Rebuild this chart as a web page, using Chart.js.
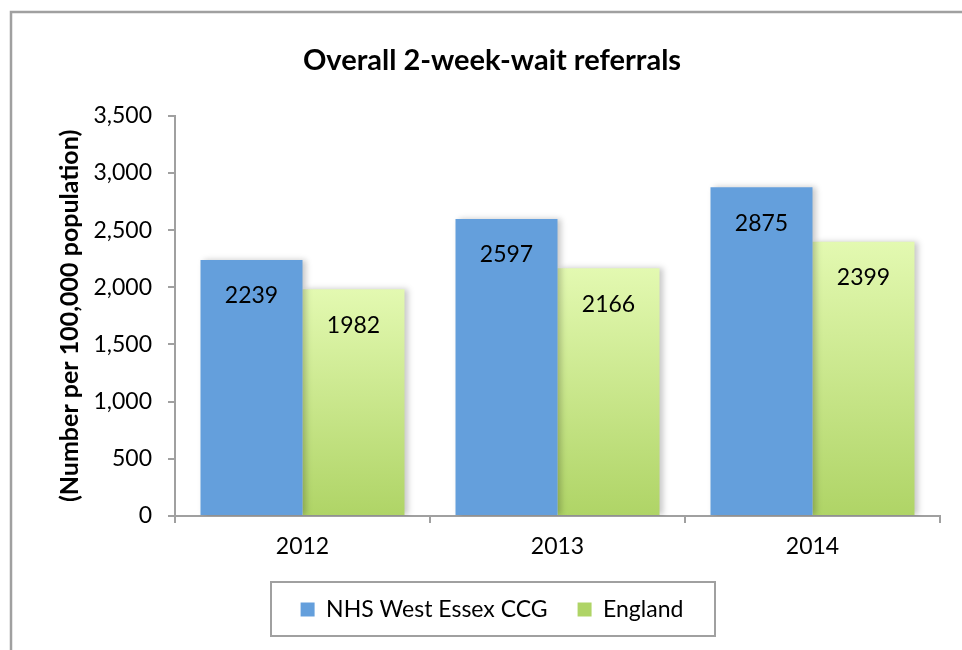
<!DOCTYPE html>
<html>
<head>
<meta charset="utf-8">
<script src="https://cdn.jsdelivr.net/npm/chart.js@4"></script>
<style>
  html, body { margin: 0; padding: 0; background: #fff; }
  #wrap { width: 962px; height: 650px; position: relative; }
</style>
</head>
<body>
<div id="wrap"><canvas id="myChart" width="962" height="650"></canvas></div>
<script>
// data
const years = ['2012', '2013', '2014'];
const westEssex = [2239, 2597, 2875];
const england = [1982, 2166, 2399];
const yTicks = [0, 500, 1000, 1500, 2000, 2500, 3000, 3500];

const FONT = 'Lato, "Open Sans", sans-serif';
const axisGrey = '#a0a0a0';

// per-bar vertical gradient for the England bars
function greenFill(c) {
  const chart = c.chart;
  if (!chart.chartArea || c.parsed === undefined) return '#c8e88a';
  const yScale = chart.scales.y;
  const top = yScale.getPixelForValue(c.parsed.y);
  const bottom = yScale.getPixelForValue(0);
  const g = chart.ctx.createLinearGradient(0, top, 0, bottom);
  g.addColorStop(0, '#e3f9b1');
  g.addColorStop(1, '#afd466');
  return g;
}

// outer frame, bar shadow, value labels, legend box
const extras = {
  id: 'extras',
  afterLayout(chart) {
    // centre title and legend on the frame rather than the canvas
    chart.titleBlock.left = 44;
    chart.legend.left = 44;
  },
  beforeDraw(chart) {
    const ctx = chart.ctx;
    ctx.save();
    ctx.strokeStyle = axisGrey;
    ctx.lineWidth = 2.5;
    ctx.beginPath();
    ctx.moveTo(11, 660);
    ctx.lineTo(11, 12);
    ctx.lineTo(970, 12);
    ctx.stroke();
    ctx.restore();
  },
  beforeDatasetsDraw(chart) {
    const ctx = chart.ctx;
    ctx.save();
    ctx.shadowColor = 'rgba(0,0,0,0.22)';
    ctx.shadowBlur = 6;
    ctx.shadowOffsetX = 3;
    ctx.shadowOffsetY = 0;
  },
  afterDatasetsDraw(chart) {
    const ctx = chart.ctx;
    ctx.restore();
    ctx.save();
    ctx.font = '23px ' + FONT;
    ctx.fillStyle = '#000';
    ctx.textAlign = 'center';
    ctx.textBaseline = 'middle';
    chart.data.datasets.forEach((ds, i) => {
      chart.getDatasetMeta(i).data.forEach((bar, j) => {
        ctx.fillText(String(ds.data[j]), bar.x, bar.y + 36);
      });
    });
    ctx.restore();
  },
  afterDraw(chart) {
    const ctx = chart.ctx;
    ctx.save();
    ctx.strokeStyle = axisGrey;
    ctx.lineWidth = 2;
    ctx.strokeRect(271, 582, 444, 54);
    ctx.restore();
  }
};

new Chart(document.getElementById('myChart'), {
  type: 'bar',
  data: {
    labels: years,
    datasets: [{
      label: 'NHS West Essex CCG',
      data: westEssex,
      backgroundColor: '#649fdc',
      borderWidth: 0
    }, {
      label: 'England',
      data: england,
      backgroundColor: greenFill,
      borderWidth: 0
    }]
  },
  options: {
    responsive: false,
    animation: false,
    layout: { padding: { left: 0, right: 22, top: 0, bottom: 19 } },
    datasets: { bar: { categoryPercentage: 0.8, barPercentage: 1.0 } },
    plugins: {
      title: {
        display: true,
        text: 'Overall 2-week-wait referrals',
        color: '#000',
        font: { family: FONT, size: 29, weight: 'bold' },
        padding: { top: 43, bottom: 38 }
      },
      legend: {
        position: 'bottom',
        labels: {
          color: '#000',
          font: { family: FONT, size: 23 },
          boxWidth: 14,
          boxHeight: 14,
          padding: 30
        }
      },
      tooltip: { enabled: false }
    },
    scales: {
      x: {
        grid: { display: true, drawOnChartArea: false, tickLength: 7, offset: true, color: axisGrey, lineWidth: 2 },
        border: { color: axisGrey, width: 2 },
        ticks: { color: '#000', font: { family: FONT, size: 23 }, padding: 10 },
        afterFit(s) { s.height = 52; }
      },
      y: {
        min: 0,
        max: 3500,
        afterBuildTicks(s) { s.ticks = yTicks.map(v => ({ value: v })); },
        grid: { display: true, drawOnChartArea: false, tickLength: 7, color: axisGrey, lineWidth: 2 },
        border: { color: axisGrey, width: 2 },
        ticks: {
          color: '#000',
          font: { family: FONT, size: 23 },
          padding: 16,
          callback: v => v.toLocaleString('en-US')
        },
        title: {
          display: true,
          text: '(Number per 100,000 population)',
          color: '#000',
          font: { family: FONT, size: 25, weight: 'bold' },
          padding: { top: 55, bottom: 0 }
        },
        afterFit(s) { s.width = 175; }
      }
    }
  },
  plugins: [extras]
});
</script>
</body>
</html>
